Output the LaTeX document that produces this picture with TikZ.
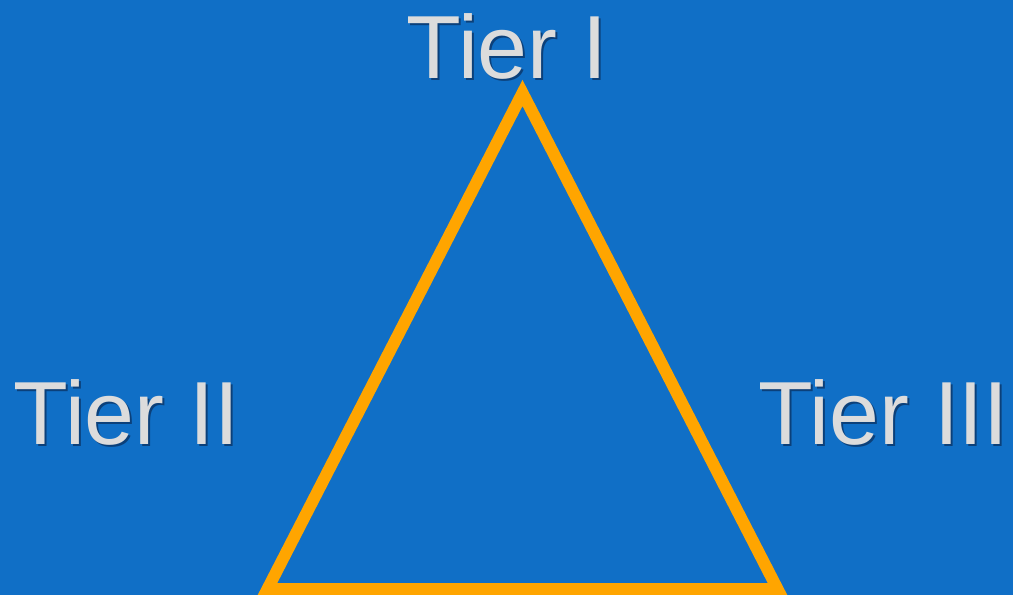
\documentclass[tikz,border=0pt]{standalone}
\usepackage{fontspec}
\setmainfont{Liberation Sans}
\usetikzlibrary{positioning}
\definecolor{tblue}{RGB}{16,111,198}
\definecolor{torange}{RGB}{255,165,0}
\definecolor{tgray}{RGB}{220,220,220}
\definecolor{tshade}{RGB}{10,45,90}

\begin{document}
\begin{tikzpicture}[font=\fontsize{51}{60}\selectfont,
    tierlbl/.style={text=tgray,inner sep=0pt,anchor=base},
    tiershadow/.style={text=tshade,opacity=0.7,inner sep=0pt,anchor=base}]
    \fill[tblue] (0,0) rectangle (20.26,11.9);
    \useasboundingbox (0,0) rectangle (20.26,11.9);
    \clip (0,0) rectangle (20.26,11.9);
    % triangle corners
    \coordinate (apex) at (10.45,10.04);
    \coordinate (leftc) at (5.35,0.12);
    \coordinate (rightc) at (15.55,0.12);
    \draw[torange,line width=6.8pt,miter limit=10] (apex)--(leftc)--(rightc)--cycle;
    % labels with a soft drop shadow
    \node[tiershadow] (tieroneshd) at (10.18,10.28) {Tier I};
    \node[tierlbl] (tierone) at (10.14,10.32) {Tier I};
    \node[tiershadow] (tiertwoshd) at (2.57,2.96) {Tier II};
    \node[tierlbl] (tiertwo) at (2.53,3.0) {Tier II};
    \node[tiershadow] (tierthreeshd) at (17.71,2.96) {Tier III};
    \node[tierlbl] (tierthree) at (17.67,3.0) {Tier III};
  \end{tikzpicture}
\end{document}
